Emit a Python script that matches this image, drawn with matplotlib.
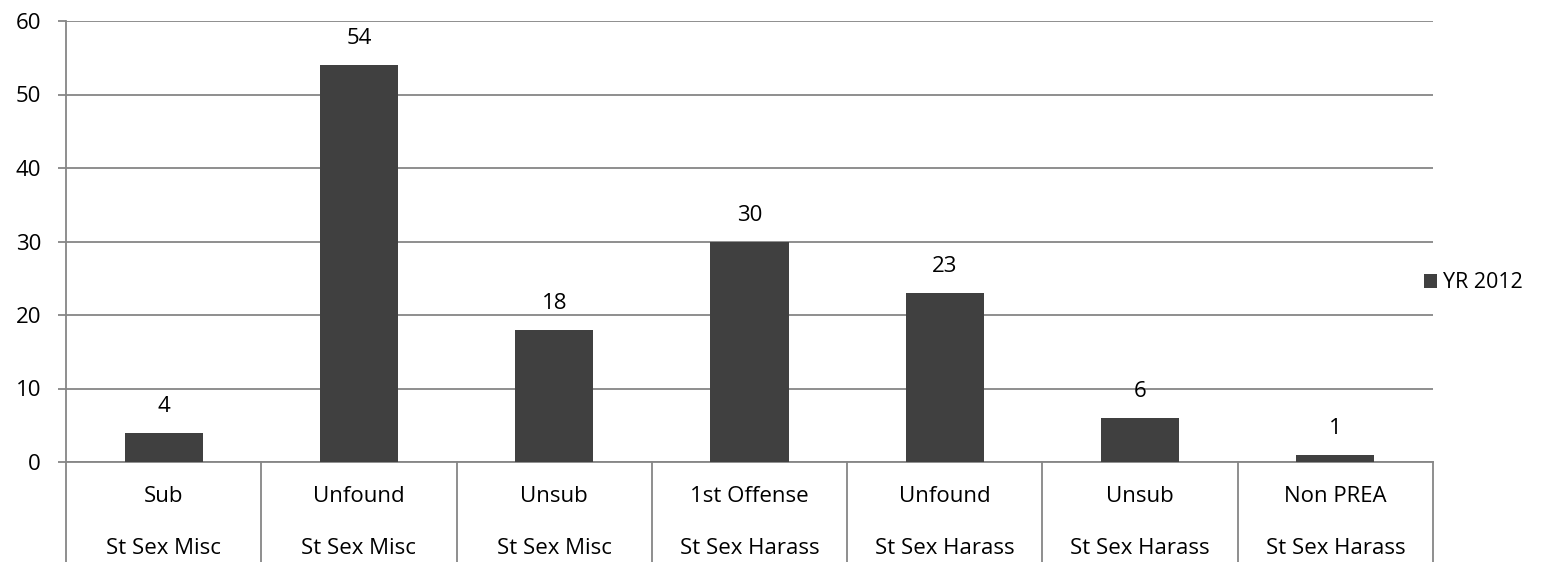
import matplotlib.pyplot as plt
from matplotlib.transforms import blended_transform_factory

# Data
outcomes = ['Sub', 'Unfound', 'Unsub', '1st Offense', 'Unfound', 'Unsub', 'Non PREA']
groups = ['St Sex Misc', 'St Sex Misc', 'St Sex Misc', 'St Sex Harass',
          'St Sex Harass', 'St Sex Harass', 'St Sex Harass']
counts = [4, 54, 18, 30, 23, 6, 1]
series_name = 'YR 2012'

plt.rcParams['font.family'] = ['Open Sans', 'DejaVu Sans']
fs = 16

bar_color = '#404040'
grid_color = '#868686'

W, H = 1547, 562
fig = plt.figure(figsize=(W / 100, H / 100), dpi=100)
ax = fig.add_axes([66 / W, 1 - 462 / H, (1433 - 66) / W, (462 - 21) / H])

x = list(range(len(counts)))
bars = ax.bar(x, counts, width=0.4, color=bar_color, label=series_name, zorder=3)

ax.set_xlim(-0.5, len(counts) - 0.5)
ax.set_ylim(0, 60)
ax.set_yticks(range(0, 61, 10))
ax.yaxis.grid(True, color=grid_color, linewidth=1.3)
ax.set_axisbelow(True)

for s in ['top', 'right']:
    ax.spines[s].set_visible(False)
ax.spines['left'].set_color(grid_color)
ax.spines['bottom'].set_color(grid_color)
ax.spines['left'].set_linewidth(1.3)
ax.spines['bottom'].set_linewidth(1.3)
ax.tick_params(axis='y', length=6, width=1.3, color=grid_color, pad=12, labelsize=fs)
ax.tick_params(axis='x', bottom=False, labelbottom=False)

# value labels
for xi, v in zip(x, counts):
    ax.annotate(str(v), (xi, v), xytext=(0, 19), textcoords='offset points',
                ha='center', va='center', fontsize=fs)

# two-level category axis
trans = blended_transform_factory(ax.transData, ax.transAxes)
bottom = -(H - 462) / (462 - 21)
for b in range(len(counts) + 1):
    ax.plot([b - 0.5, b - 0.5], [0, bottom], transform=trans, color=grid_color,
            linewidth=1.3, clip_on=False)
for xi, o, g in zip(x, outcomes, groups):
    ax.text(xi, -(496 - 462) / 441, o, transform=trans, ha='center', va='center', fontsize=fs)
    ax.text(xi, -(548 - 462) / 441, g, transform=trans, ha='center', va='center', fontsize=fs)

fig.legend(handles=[bars], loc='center left', bbox_to_anchor=(1424 / W, 1 - 283 / H),
           frameon=False, handlelength=0.6, handleheight=0.6, handletextpad=0.3,
           borderpad=0, borderaxespad=0, fontsize=15.5)

fig.savefig('out.png', dpi=100)
